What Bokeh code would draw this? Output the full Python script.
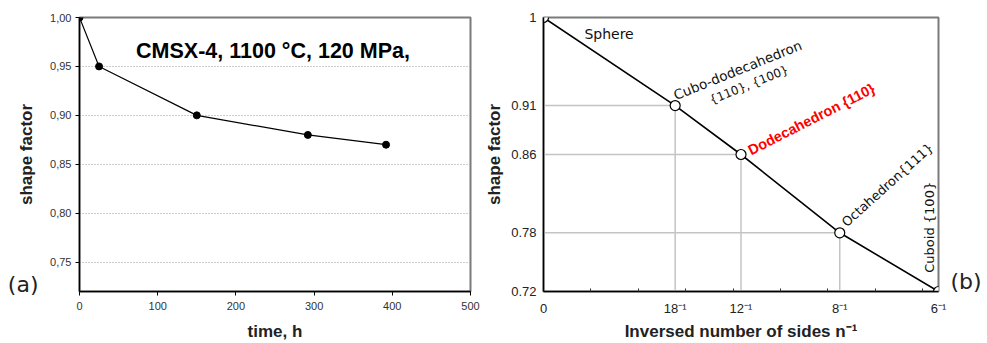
from bokeh.plotting import figure
from bokeh.layouts import row
from bokeh.models import Range1d, FixedTicker, Label, LinearAxis
from bokeh.embed import file_html
from bokeh.resources import INLINE

# ---------------- data: panel (a) ----------------
time_h = [0, 25, 150, 292, 392]
shape_a = [1.00, 0.95, 0.90, 0.88, 0.87]
a_xticks = [0, 100, 200, 300, 400, 500]
a_yticks = [0.75, 0.80, 0.85, 0.90, 0.95, 1.00]
a_ytick_labels = ["0,75", "0,80", "0,85", "0,90", "0,95", "1,00"]
a_title = "CMSX-4, 1100 °C, 120 MPa,"
a_xlabel = "time, h"
a_ylabel = "shape factor"
a_tag = "(a)"

# ---------------- data: panel (b) ----------------
inv_sides = [0.0, 1 / 18, 1 / 12, 1 / 8, 1 / 6]
shape_b = [1.00, 0.91, 0.86, 0.78, 0.72]
b_xtick_labels = ["0", "18⁻¹", "12⁻¹", "8⁻¹", "6⁻¹"]
b_yticks = [0.72, 0.78, 0.86, 0.91, 1.00]
b_ytick_labels = ["0.72", "0.78", "0.86", "0.91", "1"]
b_minor = [0.02, 0.04, 0.06, 0.08, 0.10, 0.12, 0.14, 0.16]
b_xlabel = "Inversed number of sides n⁻¹"
b_ylabel = "shape factor"
b_tag = "(b)"

SANS = "Liberation Sans"
DJV = "DejaVu Sans"
W1, W2, H = 482, 505, 343

# ---------------- panel (a) ----------------
AX0, AX1, AY0, AY1 = 0, 500, 0.72, 1.00
A_FL, A_FR, A_FT, A_FB = 79, 470, 17, 291   # frame edges in page pixels


def ax(px):
    return AX0 + (px - A_FL) * (AX1 - AX0) / (A_FR - A_FL)


def ay(py):
    return AY1 - (py - A_FT) * (AY1 - AY0) / (A_FB - A_FT)


p1 = figure(width=W1, height=H, x_range=Range1d(AX0, AX1), y_range=Range1d(AY0, AY1),
            output_backend="svg", toolbar_location=None,
            min_border_left=A_FL, min_border_right=W1 - A_FR,
            min_border_top=A_FT, min_border_bottom=H - A_FB)
p1.outline_line_color = "#7a7a7a"
p1.outline_line_width = 2
p1.xgrid.visible = False
p1.xaxis.ticker = FixedTicker(ticks=a_xticks, minor_ticks=[])
p1.yaxis.ticker = FixedTicker(ticks=a_yticks, minor_ticks=[])
p1.yaxis.major_label_overrides = dict(zip(a_yticks, a_ytick_labels))
p1.ygrid.grid_line_color = "#9a9a9a"
p1.ygrid.grid_line_dash = "1 2"
p1.ygrid.grid_line_width = 1
for axis in (p1.xaxis[0], p1.yaxis[0]):
    axis.axis_line_color = "black"
    axis.axis_line_width = 1.5
    axis.major_tick_out = 4
    axis.major_tick_in = 0
    axis.minor_tick_out = 0
    axis.minor_tick_in = 0
    axis.major_tick_line_color = "black"
    axis.major_label_text_font = SANS
    axis.major_label_text_font_size = "11px"
    axis.major_label_text_color = "#333333"
    axis.axis_label_text_font = SANS
    axis.axis_label_text_font_style = "bold"
    axis.axis_label_text_font_size = "17px"
    axis.axis_label_text_color = "#222222"
p1.xaxis.major_label_standoff = 6
p1.yaxis.major_label_standoff = 4
p1.xaxis.axis_label = a_xlabel
p1.xaxis.axis_label_standoff = 9
p1.yaxis.axis_label = a_ylabel
p1.yaxis.axis_label_standoff = 11

# panel tag "(a)" carried by an extra, line-less axis on the left
tag_a_y = round(ay(284), 4)
tag_axis_a = LinearAxis(ticker=FixedTicker(ticks=[tag_a_y], minor_ticks=[]),
                        major_label_overrides={tag_a_y: a_tag},
                        axis_line_color=None, major_tick_line_color=None,
                        minor_tick_line_color=None, major_tick_out=0, major_tick_in=0,
                        major_label_standoff=-24, major_label_text_font=DJV,
                        major_label_text_font_size="22px",
                        major_label_text_color="#222222")
p1.add_layout(tag_axis_a, "left")

p1.line(time_h, shape_a, line_color="black", line_width=1.2)
p1.scatter(time_h, shape_a, size=7, fill_color="black", line_color="black")

p1.add_layout(Label(x=ax(272.5), y=ay(50), text=a_title, text_align="center",
                    text_baseline="alphabetic", text_font=SANS, text_font_style="bold",
                    text_font_size="21.5px", text_color="black"))

# ---------------- panel (b) ----------------
BX0, BX1, BY0, BY1 = 0.0, 1 / 6, 0.72, 1.00
OFF2 = W1
B_FL, B_FR, B_FT, B_FB = 542, 938, 17, 294


def bx(px):
    return BX0 + (px - B_FL) * (BX1 - BX0) / (B_FR - B_FL)


def by(py):
    return BY1 - (py - B_FT) * (BY1 - BY0) / (B_FB - B_FT)


p2 = figure(width=W2, height=H, x_range=Range1d(BX0, BX1), y_range=Range1d(BY0, BY1),
            output_backend="svg", toolbar_location=None,
            min_border_left=B_FL - OFF2, min_border_right=OFF2 + W2 - B_FR,
            min_border_top=B_FT, min_border_bottom=H - B_FB)
p2.outline_line_color = "#7a7a7a"
p2.outline_line_width = 2
p2.xgrid.visible = False
p2.ygrid.visible = False
p2.xaxis.ticker = FixedTicker(ticks=inv_sides, minor_ticks=b_minor)
p2.xaxis.major_label_overrides = dict(zip(inv_sides, b_xtick_labels))
p2.yaxis.ticker = FixedTicker(ticks=b_yticks, minor_ticks=[])
p2.yaxis.major_label_overrides = dict(zip(b_yticks, b_ytick_labels))
for axis in (p2.xaxis[0], p2.yaxis[0]):
    axis.axis_line_color = "black"
    axis.axis_line_width = 1.5
    axis.major_tick_out = 0
    axis.major_tick_in = 0
    axis.minor_tick_out = 0
    axis.minor_tick_in = 0
    axis.major_label_text_font = SANS
    axis.major_label_text_font_size = "13px"
    axis.major_label_text_color = "#222222"
    axis.axis_label_text_font = SANS
    axis.axis_label_text_font_style = "bold"
    axis.axis_label_text_font_size = "17px"
    axis.axis_label_text_color = "#222222"
p2.xaxis.minor_tick_in = 3
p2.xaxis.minor_tick_line_color = "#333333"
p2.xaxis.major_label_standoff = 9
p2.yaxis.major_label_standoff = 7
p2.xaxis.axis_label = b_xlabel
p2.xaxis.axis_label_standoff = 3
p2.yaxis.axis_label = b_ylabel
p2.yaxis.axis_label_standoff = 4

tag_b_y = round(by(284), 4)
tag_axis_b = LinearAxis(ticker=FixedTicker(ticks=[tag_b_y], minor_ticks=[]),
                        major_label_overrides={tag_b_y: b_tag},
                        axis_line_color=None, major_tick_line_color=None,
                        minor_tick_line_color=None, major_tick_out=0, major_tick_in=0,
                        major_label_standoff=12, major_label_text_font=DJV,
                        major_label_text_font_size="22px",
                        major_label_text_color="#222222")
p2.add_layout(tag_axis_b, "right")

# guide lines from the inner points to the axes
mid_x = inv_sides[1:-1]
mid_y = shape_b[1:-1]
p2.segment(x0=mid_x, y0=[BY0] * len(mid_x), x1=mid_x, y1=mid_y,
           line_color="#c4c4c4", line_width=1.5)
p2.segment(x0=[BX0] * len(mid_x), y0=mid_y, x1=mid_x, y1=mid_y,
           line_color="#c4c4c4", line_width=1.5)
p2.line(inv_sides, shape_b, line_color="black", line_width=1.6)
p2.scatter(inv_sides, shape_b, size=10, fill_color="white", line_color="black",
           line_width=1.2)


def blabel(px, py, text, angle=0, size="13px", font=DJV, style="normal",
           color="#111111", align="left"):
    p2.add_layout(Label(x=bx(px), y=by(py), text=text, angle=angle, angle_units="deg",
                        text_align=align, text_baseline="alphabetic", text_font=font,
                        text_font_style=style, text_font_size=size, text_color=color))


blabel(583, 34, "Sphere", size="14px")
blabel(673, 96, "Cubo-dodecahedron", angle=22, size="13.5px")
blabel(709, 101, "{110}, {100}", angle=22, size="12px")
blabel(748, 152, "Dodecahedron {110}", angle=27, size="14.5px", font=SANS,
       style="bold", color="#ff0000")
blabel(843, 226, "Octahedron{111}", angle=42, size="13px")
blabel(929, 275, "Cuboid {100}", angle=90)

layout = row(p1, p2)
open("out.html", "w").write(file_html(layout, INLINE))
